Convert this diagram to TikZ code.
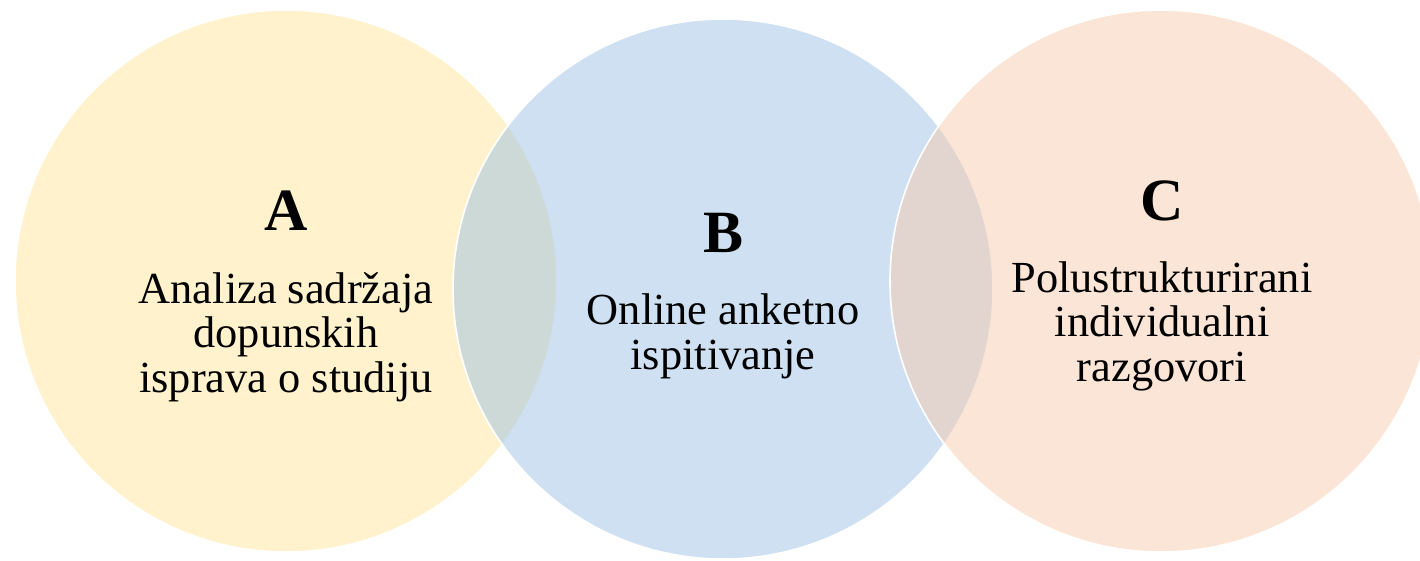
\documentclass[tikz,border=0pt]{standalone}
\usepackage{fontspec}
\setmainfont{Liberation Serif}
\definecolor{cA}{HTML}{FFE599}
\definecolor{cB}{HTML}{9DC1E3}
\definecolor{cC}{HTML}{F7CBAD}
\begin{document}
\begin{tikzpicture}[x=1pt,y=-1pt,
  venn/.style={circle, minimum size=#1, inner sep=0pt, draw=white, line width=1.6pt, fill opacity=0.5},
  ttl/.style={anchor=base, inner sep=0pt, font=\fontsize{60}{60}\selectfont\bfseries},
  body/.style={anchor=base, inner sep=0pt, align=center, font=\fontsize{44.4}{44.5}\selectfont}]
\useasboundingbox (0,0) rectangle (1420,560);
\clip (0,0) rectangle (1420,560);
\node[venn=542pt, fill=cA] (cirA) at (286,281) {};
\node[venn=540pt, fill=cB] (cirB) at (723,289) {};
\node[venn=542pt, fill=cC] (cirC) at (1161,281) {};
\node[ttl] (tA) at (286,230) {A};
\node[ttl] (tB) at (723,252) {B};
\node[ttl] (tC) at (1162,220) {C};
\node[body] (bA) at (286,392) {Analiza sadržaja\\dopunskih\\isprava o studiju};
\node[body] (bB) at (723,369) {Online anketno\\ispitivanje};
\node[body] (bC) at (1162,381) {Polustrukturirani\\individualni\\razgovori};
\end{tikzpicture}
\end{document}
